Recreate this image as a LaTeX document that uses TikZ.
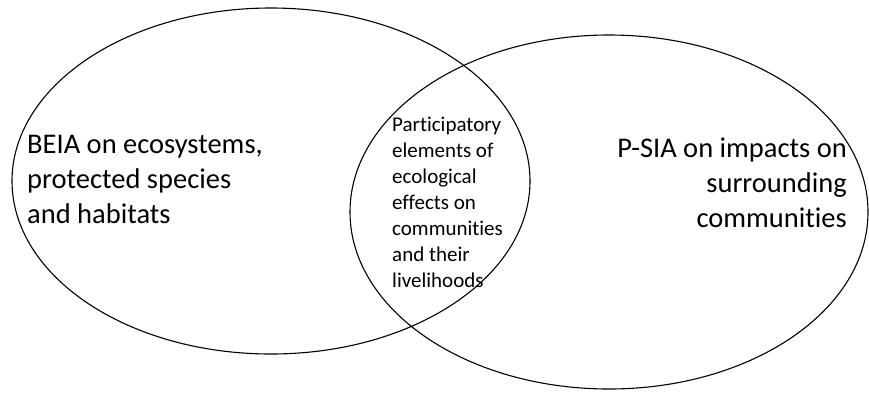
\documentclass[tikz,border=0pt]{standalone}
\usepackage{fontspec}
\setmainfont{Carlito}[Ligatures=NoCommon]
\usetikzlibrary{shapes.geometric}

\begin{document}
\begin{tikzpicture}[x=1pt,y=-1pt,
    venn/.style={draw,ellipse,line width=1.1pt,inner sep=0pt},
    bigtext/.style={inner sep=0pt,font=\fontsize{28.5}{35}\selectfont},
    smalltext/.style={inner sep=0pt,align=left,font=\fontsize{21}{26}\selectfont}]
        \useasboundingbox (0,0) rectangle (869,392);
        \node[venn,minimum width=518pt,minimum height=346pt] (beia) at (271,181) {};
        \node[venn,minimum width=518pt,minimum height=354pt] (psia) at (609,212) {};
        \node[bigtext,align=left,anchor=north west] (beiatext) at (27,135) {BEIA on ecosystems,\\protected species\\and habitats};
        \node[bigtext,align=right,anchor=north east] (psiatext) at (847,138) {P-SIA on impacts on\\surrounding\\communities};
        \node[smalltext,anchor=north west] (overlap) at (392,117) {Participatory\\elements of\\ecological\\effects on\\communities\\and their\\livelihoods};
    \end{tikzpicture}
\end{document}
